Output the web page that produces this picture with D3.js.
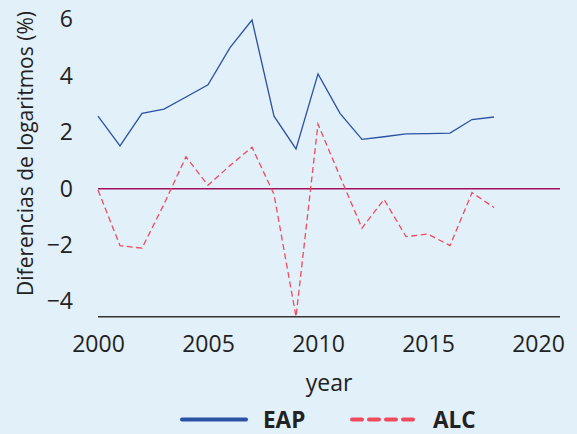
<!DOCTYPE html>
<html>
<head>
<meta charset="utf-8">
<script src="https://cdn.jsdelivr.net/npm/d3@7"></script>
<style>
  body{margin:0;background:#e2f0f9;}
  svg{display:block;font-family:"Open Sans",sans-serif;}
</style>
</head>
<body>
<svg id="chart" width="577" height="434"></svg>
<script>
// data
var years = d3.range(2000, 2019);
var eap = [2.57,1.52,2.67,2.82,3.25,3.68,5.0,5.98,2.57,1.41,4.07,2.67,1.75,1.84,1.94,1.95,1.97,2.45,2.54];
var alc = [-0.05,-2.02,-2.11,-0.55,1.13,0.12,0.82,1.47,-0.2,-4.54,2.29,0.43,-1.4,-0.38,-1.7,-1.61,-2.02,-0.14,-0.67];
var yticks = [-4,-2,0,2,4,6];
var xticks = [2000,2005,2010,2015,2020];
var series = [
  {name:'EAP', values:eap, color:'#2b52a3', dash:null},
  {name:'ALC', values:alc, color:'#f04a5c', dash:'6,3.5'}
];

var svg = d3.select('#chart');
var x = d3.scaleLinear().domain([2000,2021]).range([98,560]);
var y = d3.scaleLinear().domain([d3.min(alc), d3.max(eap)]).range([316.7,20]);

// axes
var gy = svg.append('g').attr('transform','translate(98,0)')
  .call(d3.axisLeft(y).tickValues(yticks).tickSize(0).tickPadding(25));
gy.select('.domain').remove();
var gx = svg.append('g').attr('transform','translate(0,316.7)')
  .call(d3.axisBottom(x).tickValues(xticks).tickFormat(d3.format('d')).tickSize(0).tickPadding(19));
gx.select('.domain').remove();
svg.selectAll('.tick text').attr('font-family','"Open Sans",sans-serif')
  .attr('font-size',23).attr('fill','#222');

svg.append('line').attr('x1',x(2000)).attr('x2',x(2021))
  .attr('y1',316.7).attr('y2',316.7).attr('stroke','#333').attr('stroke-width',1.5);

// zero line
svg.append('line').attr('x1',x(2000)).attr('x2',x(2021))
  .attr('y1',y(0)).attr('y2',y(0)).attr('stroke','#a0105c').attr('stroke-width',1.5);

// lines
var line = d3.line().x(function(d,i){return x(years[i]);}).y(function(d){return y(d);});
series.forEach(function(s){
  svg.append('path').datum(s.values).attr('d',line)
    .attr('fill','none').attr('stroke',s.color).attr('stroke-width',1.3)
    .attr('stroke-dasharray',s.dash);
});

// labels
svg.append('text').attr('transform','translate(33,153.5) rotate(-90)')
  .attr('text-anchor','middle').attr('font-size',21).attr('fill','#222')
  .text('Diferencias de logaritmos (%)');
svg.append('text').attr('x',329).attr('y',391).attr('text-anchor','middle')
  .attr('font-size',23).attr('fill','#222').text('year');

// legend
var leg = [{x:182, tx:263}, {x:352, tx:433}];
series.forEach(function(s,i){
  svg.append('line').attr('x1',leg[i].x).attr('x2',leg[i].x+64)
    .attr('y1',419.5).attr('y2',419.5).attr('stroke',s.color).attr('stroke-width',4)
    .attr('stroke-linecap','round')
    .attr('stroke-dasharray', s.dash ? '10,7' : null);
  svg.append('text').attr('x',leg[i].tx).attr('y',427.5)
    .attr('font-size',22.5).attr('font-weight','bold').attr('fill','#222').text(s.name);
});
</script>
</body>
</html>
